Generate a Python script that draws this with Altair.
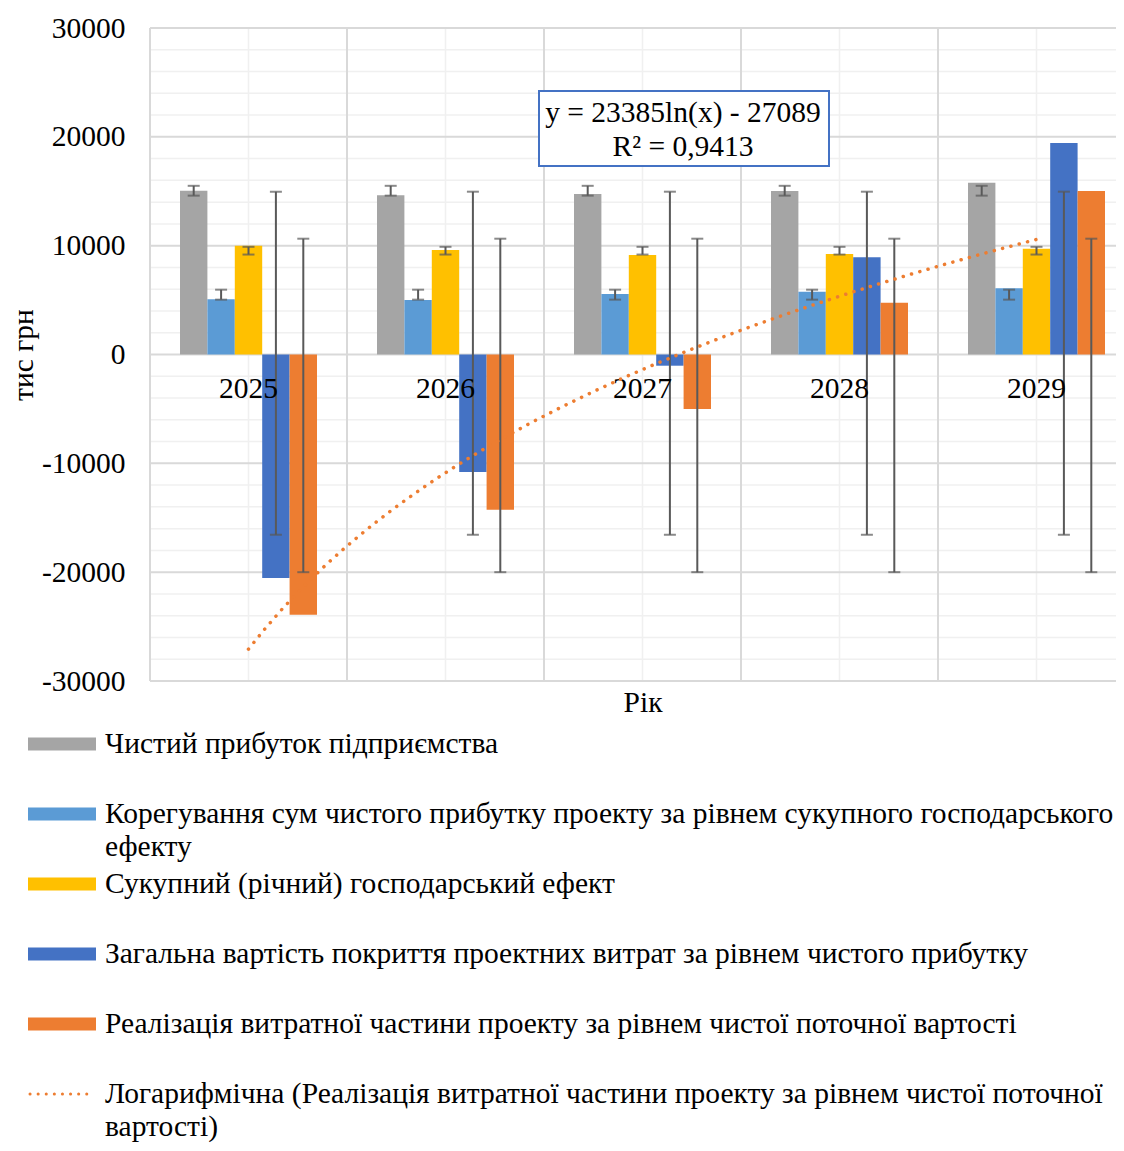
import altair as alt
import pandas as pd

FONT = "Liberation Serif"
FS = 29.5

years = ["2025", "2026", "2027", "2028", "2029"]
series = [
    "Чистий прибуток підприємства",
    "Корегування сум чистого прибутку проекту за рівнем сукупного господарського ефекту",
    "Сукупний (річний) господарський ефект",
    "Загальна вартість покриття проектних витрат за рівнем чистого прибутку",
    "Реалізація витратної частини проекту за рівнем чистої поточної вартості",
]
colors = ["#a5a5a5", "#5b9bd5", "#ffc000", "#4472c4", "#ed7d31"]

net_profit = [15050, 14630, 14750, 15020, 15790]
adjustment = [5070, 5010, 5560, 5770, 6080]
annual_effect = [10000, 9600, 9140, 9230, 9720]
cost_coverage = [-20540, -10800, -1030, 8930, 19430]
cost_npv = [-23910, -14260, -5010, 4760, 15020]
values_by_series = [net_profit, adjustment, annual_effect, cost_coverage, cost_npv]

y_ticks = [-30000, -20000, -10000, 0, 10000, 20000, 30000]
minor_grid = [v for v in range(-30000, 30001, 2000) if v % 10000 != 0]

trend_label = ["y = 23385ln(x) - 27089", "R² = 0,9413"]
trend_name = "Логарифмічна (Реалізація витратної частини проекту за рівнем чистої поточної вартості)"
legend_wrapped = {
    1: ["Корегування сум чистого прибутку проекту за рівнем сукупного господарського", "ефекту"],
    5: ["Логарифмічна (Реалізація витратної частини проекту за рівнем чистої поточної", "вартості)"],
}
y_title = "тис грн"
x_title = "Рік"

rows = []
for s_i, (name, vals) in enumerate(zip(series, values_by_series)):
    for y_i, (yr, v) in enumerate(zip(years, vals)):
        rows.append({"year": yr, "idx": y_i + 1, "series": name, "value": v, "color": colors[s_i]})
df = pd.DataFrame(rows)
years_df = pd.DataFrame({"year": years})

PLOT_W = 966       # visible plot width (kept inside the window)
PLOT_H = 653
BAND_RANGE = 985   # the category axis continues past the window edge, as in the original

xscale = alt.Scale(type="band", domain=years, paddingInner=0, paddingOuter=0, range=[0, BAND_RANGE])
xaxis = alt.Axis(labels=False, ticks=False, domain=False, grid=False, title=x_title,
                 titleFont=FONT, titleFontSize=FS, titleFontWeight="normal",
                 titleColor="black", titlePadding=7)
yscale = alt.Scale(domain=[-30000, 30000], nice=False, zero=False)
yaxis = alt.Axis(
    values=y_ticks,
    labelExpr="'' + datum.value",
    labelOverlap=False, grid=False,
    domain=False, ticks=False, tickSize=0, labelPadding=25,
    labelFont=FONT, labelFontSize=FS, labelColor="black",
    title=y_title, titleFont=FONT, titleFontSize=FS, titleFontWeight="normal",
    titleColor="black", titlePadding=3,
)
# two empty slots flank the five bars of each year (Excel gap width)
offscale = alt.Scale(domain=["_gap_l"] + series + ["_gap_r"], paddingInner=0, paddingOuter=0.095)


def X(**kw):
    return alt.X("year:N", sort=years, scale=xscale, axis=xaxis, **kw)


def Y(field):
    return alt.Y(field, scale=yscale, axis=yaxis)


XO = alt.XOffset("series:N", scale=offscale)

hminor = alt.Chart(pd.DataFrame({"v": minor_grid})).mark_rule(color="#f0f0f0", strokeWidth=1.5).encode(y=Y("v:Q"))
hmajor = alt.Chart(pd.DataFrame({"v": y_ticks})).mark_rule(color="#d9d9d9", strokeWidth=2).encode(y=Y("v:Q"))
vmajor = alt.Chart(years_df).mark_rule(color="#d9d9d9", strokeWidth=2).encode(x=X(bandPosition=0))
vminor = alt.Chart(years_df).mark_rule(color="#f0f0f0", strokeWidth=1.5).encode(x=X(bandPosition=0.5))

bars = alt.Chart(df).mark_bar().encode(
    x=X(), xOffset=XO, y=Y("value:Q"), color=alt.Color("color:N", scale=None),
)

err_base = alt.Chart(df).transform_joinaggregate(
    mean="mean(value)", sd="stdev(value)", groupby=["series"]
).transform_calculate(lo="datum.mean - datum.sd", hi="datum.mean + datum.sd")

err = err_base.mark_rule(color="#595959", strokeWidth=2).encode(
    x=X(), xOffset=XO, y=Y("lo:Q"), y2="hi:Q"
)
cap_lo = err_base.mark_tick(color="#595959", thickness=2, size=12, orient="horizontal").encode(
    x=X(), xOffset=XO, y=Y("lo:Q")
)
cap_hi = err_base.mark_tick(color="#595959", thickness=2, size=12, orient="horizontal").encode(
    x=X(), xOffset=XO, y=Y("hi:Q")
)

year_text = alt.Chart(years_df).mark_text(
    font=FONT, fontSize=FS, color="black", baseline="middle", dy=34
).encode(x=X(), y=alt.datum(0), text="year:N")

one = pd.DataFrame({"a": [0]})
box = alt.Chart(one).mark_rect(fill="white", stroke="#4472c4", strokeWidth=2).encode(
    x=alt.value(389), x2=alt.value(679), y=alt.value(63), y2=alt.value(138)
)
box_t1 = alt.Chart(one).mark_text(font=FONT, fontSize=FS, color="black", baseline="middle").encode(
    x=alt.value(533), y=alt.value(85), text=alt.value(trend_label[0])
)
box_t2 = alt.Chart(one).mark_text(font=FONT, fontSize=FS, color="black", baseline="middle").encode(
    x=alt.value(533), y=alt.value(119), text=alt.value(trend_label[1])
)

inner = alt.layer(hminor, vminor, hmajor, vmajor, bars, err, cap_lo, cap_hi, year_text)

trend = alt.Chart(df[df["series"] == series[4]]).transform_regression(
    "idx", "value", method="log", extent=[1, 5]
).mark_line(color="#ed7d31", strokeWidth=3.5, strokeDash=[0.1, 8.5], strokeCap="round").encode(
    x=alt.X("idx:Q", scale=alt.Scale(domain=[0.5, 5.5], nice=False, zero=False, range=[0, BAND_RANGE]), axis=None),
    y=Y("value:Q"),
)

plot_part = alt.layer(inner, trend, box, box_t1, box_t2).resolve_scale(x="independent")

# legend below the plot area
leg_rows = []
names = series + [trend_name]
for i, name in enumerate(names):
    lines = legend_wrapped.get(i, [name])
    leg_rows.append({
        "idx": i,
        "line1": lines[0],
        "line2": lines[1] if len(lines) > 1 else "",
        "color": colors[i] if i < 5 else "#ed7d31",
        "kind": "bar" if i < 5 else "line",
    })
leg_df = pd.DataFrame(leg_rows)
LY = alt.Y("idx:O", scale=alt.Scale(type="point", padding=0, range=[PLOT_H + 63, PLOT_H + 413]), axis=None)

sw_bar = alt.Chart(leg_df).transform_filter("datum.kind == 'bar'").mark_rule(strokeWidth=13).encode(
    x=alt.value(-122), x2=alt.value(-54), y=LY, color=alt.Color("color:N", scale=None)
)
sw_line = alt.Chart(leg_df).transform_filter("datum.kind == 'line'").mark_rule(
    strokeWidth=3, strokeDash=[0.1, 8], strokeCap="round", color="#ed7d31"
).encode(x=alt.value(-120), x2=alt.value(-56), y=LY)
t1 = alt.Chart(leg_df).mark_text(font=FONT, fontSize=FS, color="black", align="left", baseline="middle").encode(
    x=alt.value(-45), y=LY, text="line1:N"
)
t2 = alt.Chart(leg_df).transform_filter("datum.line2 != ''").mark_text(
    font=FONT, fontSize=FS, color="black", align="left", baseline="middle", dy=33
).encode(x=alt.value(-45), y=LY, text="line2:N")

legend_part = alt.layer(sw_bar, sw_line, t1, t2)

chart = alt.layer(plot_part, legend_part).resolve_scale(x="independent", y="independent").properties(
    width=PLOT_W, height=PLOT_H,
    autosize=alt.AutoSizeParams(type="none"),
    padding={"left": 142, "top": 20, "right": 0, "bottom": 462},
).configure_view(stroke=None)

chart.save("out.html", embed_options={"renderer": "svg", "actions": False})
